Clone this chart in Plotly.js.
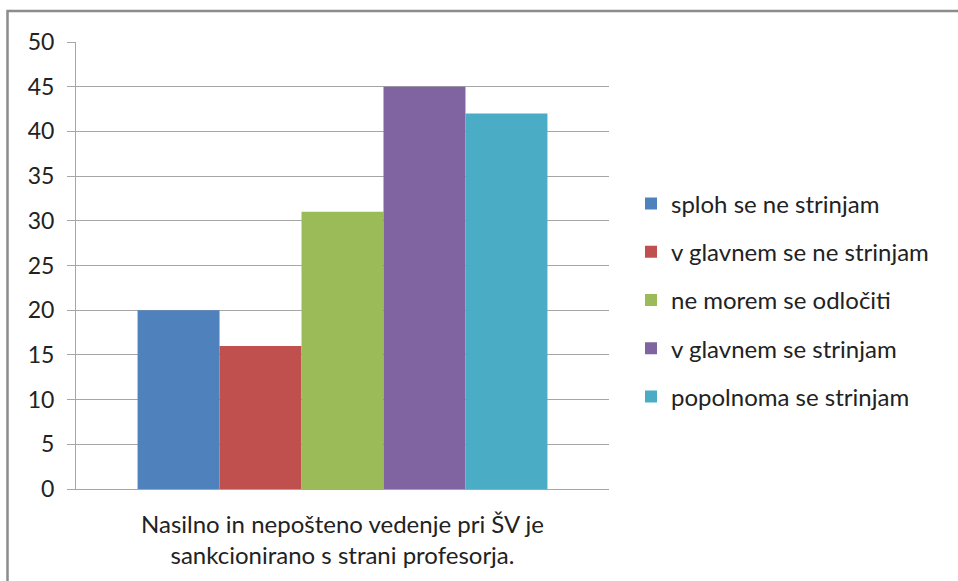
<!DOCTYPE html>
<html>
<head>
<meta charset="utf-8">
<script src="https://cdn.plot.ly/plotly-3.0.1.min.js"></script>
<style>
  html, body { margin: 0; padding: 0; background: #fff; }
  #chart { width: 958px; height: 581px; }
</style>
</head>
<body>
<div id="chart"></div>
<script>
// single-question Likert bar chart
const category = 'Nasilno in nepošteno vedenje pri ŠV je<br>sankcionirano s strani profesorja.';
const seriesNames = [
  'sploh se ne strinjam',
  'v glavnem se ne strinjam',
  'ne morem se odločiti',
  'v glavnem se strinjam',
  'popolnoma se strinjam',
];
const seriesValues = [20, 16, 31, 45, 42];
const seriesColors = ['#4F81BD', '#C0504D', '#9BBB59', '#8064A2', '#4BACC6'];
const yTicks = [0, 5, 10, 15, 20, 25, 30, 35, 40, 45, 50];

const FONT = { family: 'Lato, "Open Sans", sans-serif', color: '#222' };
const GRID = '#a6a6a6';

const W = 958, H = 581;
const margin = { l: 76, r: 349, t: 42, b: 92 };
const plotW = W - margin.l - margin.r;
const plotH = H - margin.t - margin.b;

const traces = seriesNames.map((name, i) => ({
  type: 'bar',
  x: [category],
  y: [seriesValues[i]],
  name,
  legendgroup: 'g' + i,
  marker: { color: seriesColors[i], line: { width: 0 } },
  hoverinfo: 'name+y',
}));

// outer chart frame, left/top edge visible only
const frame = {
  type: 'rect', xref: 'paper', yref: 'paper',
  x0: (7.5 - margin.l) / plotW, x1: 2,
  y0: -1, y1: (H - margin.b - 11) / plotH,
  line: { color: '#8c8c8c', width: 2.5 },
  fillcolor: 'rgba(0,0,0,0)',
};

const layout = {
  width: W, height: H,
  margin: { ...margin, pad: 0 },
  paper_bgcolor: '#fff', plot_bgcolor: '#fff',
  font: FONT,
  barmode: 'group',
  bargap: 0.231,
  bargroupgap: 0,
  xaxis: {
    showline: true, linecolor: GRID, linewidth: 1,
    ticks: '', showgrid: false,
    tickfont: { ...FONT, size: 24 },
    ticklabelstandoff: 14,
  },
  yaxis: {
    range: [0, 50], tickvals: yTicks,
    showgrid: true, gridcolor: GRID, gridwidth: 1,
    showline: true, linecolor: GRID, linewidth: 1,
    zeroline: false,
    ticks: 'outside', ticklen: 8, tickcolor: GRID, tickwidth: 1,
    tickfont: { ...FONT, size: 23 },
    ticklabelstandoff: 8,
  },
  legend: {
    x: 1 + 22 / plotW, xanchor: 'left', xref: 'paper',
    y: (H - margin.b - 300) / plotH, yanchor: 'middle',
    font: { ...FONT, size: 24 },
    tracegroupgap: 14,
    traceorder: 'grouped',
    itemclick: false,
  },
  showlegend: true,
  shapes: [frame],
};

Plotly.newPlot('chart', traces, layout, { displayModeBar: false, staticPlot: true });
</script>
</body>
</html>
